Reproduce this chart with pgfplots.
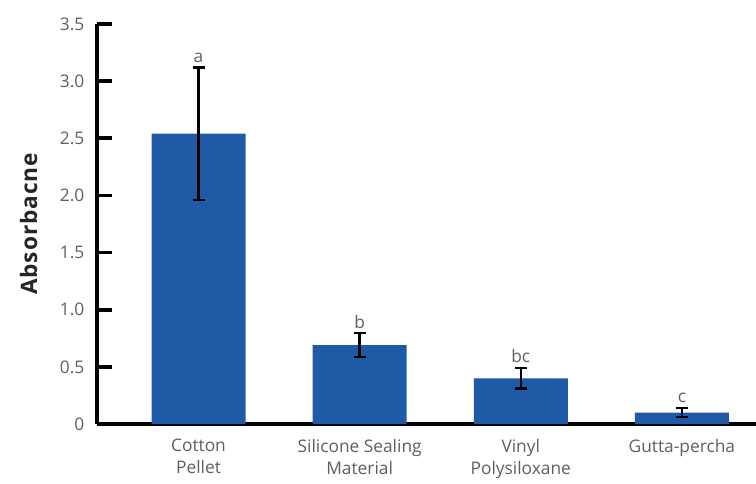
\documentclass[border=0pt]{standalone}
\usepackage{pgfplots}
\pgfplotsset{compat=1.18}
\usepackage{fontspec}
\setmainfont{Open Sans}
\definecolor{barblue}{RGB}{30,90,165}
\definecolor{txtgray}{RGB}{95,95,95}
\begin{document}
\begin{tikzpicture}
\path[use as bounding box] (-72.75pt,-44.25pt) rectangle (494.25pt,318pt);
\begin{axis}[
  at={(0,0)}, anchor=south west,
  scale only axis,
  width=494.25pt, height=300pt,
  xmin=-0.63, xmax=3.46,
  ymin=0, ymax=3.5,
  axis x line*=bottom, axis y line*=left,
  axis line style={line width=2.8pt, black},
  xtick={0,1,2,3},
  xticklabels={Cotton\\Pellet, Silicone Sealing\\Material, Vinyl\\Polysiloxane, Gutta-percha},
  xticklabel style={align=center, font=\fontsize{13}{16.5}\selectfont, text=txtgray, yshift=-8pt},
  major x tick style={draw=none},
  ytick={0,0.5,1,1.5,2,2.5,3,3.5},
  yticklabels={0,0.5,1.0,1.5,2.0,2.5,3.0,3.5},
  yticklabel style={font=\fontsize{13}{16}\selectfont, text=txtgray, xshift=-6pt},
  tick align=inside,
  major tick length=11pt,
  major y tick style={line width=2.8pt, black},
  every axis y label/.style={at={(ticklabel cs:0.5)}, rotate=90, anchor=south, yshift=10pt,
     font=\fontsize{17}{19}\selectfont\bfseries\addfontfeature{LetterSpace=4}, text=black!85},
  ylabel={Absorbacne},
  clip=false,
]
\addplot[ybar, bar width=70.5pt, fill=barblue, draw=none,
  error bars/.cd, y dir=both, y explicit,
  error bar style={line width=1.8pt, black},
  error mark options={rotate=90, mark size=4.5pt, line width=1.8pt, black}]
  coordinates {
    (0,2.54) +- (0,0.58)
    (1,0.69) +- (0,0.105)
    (2,0.40) +- (0,0.09)
    (3,0.10) +- (0,0.04)
  };
\addplot[only marks, mark=none, nodes near coords, point meta=explicit symbolic,
  every node near coord/.style={anchor=south, font=\fontsize{13}{16}\selectfont, text=txtgray, inner sep=3.5pt}]
  coordinates {
    (0,3.12) [a]
    (1,0.795) [b]
    (2,0.49) [bc]
    (3,0.14) [c]
  };
\end{axis}
\end{tikzpicture}
\end{document}
